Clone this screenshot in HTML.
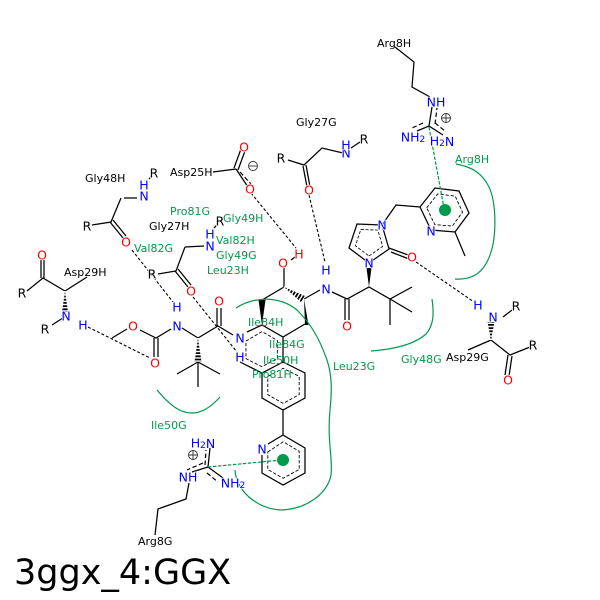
<!DOCTYPE html>
<html><head><meta charset="utf-8"><style>
html,body{margin:0;padding:0;background:#fff}
svg{display:block}
text{font-family:"DejaVu Sans",sans-serif}
.b{stroke:#000;stroke-width:1.25;fill:none}
.d{stroke:#000;stroke-width:1.2;fill:none;stroke-dasharray:4.5 2.5;vector-effect:non-scaling-stroke}
.h{stroke:#000;stroke-width:1.1;fill:none;stroke-dasharray:3 2}
.g{stroke:#009a4d;stroke-width:1.2;fill:none}
.a text{font-size:12.5px;text-anchor:middle;dominant-baseline:central;paint-order:stroke;stroke:#fff;stroke-width:1.5px}
.l text{font-size:11px}
.gt text{font-size:11px;fill:#009a4d}
</style></head><body>
<svg width="600" height="600" viewBox="0 0 600 600" xmlns="http://www.w3.org/2000/svg">
<rect width="600" height="600" fill="#fff"/>
<path class="b" d="M213 172L236 169M234 168L241 149M238 170L245 151M236 169L248 187
M288 160L304 165L322 148L343 153M351 148L360 142M303 166L307 187M306 165L310 187
M284 268V287L262 300M291 260L295 257M304 299L320 290M332 292L347 299L369 287L390 299L412 287M390 299L412 312M390 299V325M345 299V320M349 299V320
M369 263L389 249L382 225L357 224L349 248L369 263M389 248L408 255M391 252L409 259M382 225L396 205L420 207L435 188L459 191L469 213L455 232L431 230L420 207M455 232L465 256
M429 126L432 107M429 126L417 131M429 126L443 135M430 97L412 87L414 62L395 47
M491 323L491 340M491 340L468 350M491 340L510 355L530 347M508 355L505 375M512 356L509 376M503 317L512 310
M217 308V326M221 308V326M198 338L218 326L233 335M247 332L262 325L283 337L305 324M283 337V362L262 373L240 362M283 362L305 373V398L283 410L262 398V373L283 362M283 410V435L305 448V473L283 485L262 473V455M283 435L268 444
M182 328L198 338M171 329L156 338L140 330M127 329L112 338M154 338V357M158 338V357M198 362L177 374M198 362L220 374M198 362V387
M124 198H137M121 198L111 222L92 225M110 222L123 238M113 220L126 236M149 179L152 176
M185 247L204 246M185 247L176 271L158 274M175 271L188 287M178 269L191 285M214 228L217 225
M87 277L65 291L43 278L27 291M41 278V260M44 278V260M66 316L52 325"/>
<path fill="#000" d="M369 287L366.500 268H371.500ZM262 325L258.500 300H265.500ZM305 325L301.500 325H308.500L304 299Z"/>
<path fill="#000" d="M198 338L194.500 362H201.500ZM65 291L62 312H68ZM491 340L487.500 322H494.500ZM284 287L301 302L305 296Z"/>
<path stroke="#fff" stroke-width="9" stroke-dasharray="1.4 1.8" fill="none" d="M198 338V362M65 291V312M491 340V322M284 287L304 299"/>
<g class="d">
<polygon transform="translate(262 349.5) scale(.73) translate(-262 -349.5)" points="240,338 262,325 283,337 283,362 262,373 240,362"/>
<polygon transform="translate(283.500 385.500) scale(.73) translate(-283.500 -385.500)" points="262,373 283,362 305,373 305,398 283,410 262,398"/>
<polygon transform="translate(283.500 460) scale(.73) translate(-283.500 -460)" points="262,449 283,435 305,448 305,473 283,485 262,473"/>
<polygon transform="translate(445 210) scale(.73) translate(-445 -210)" points="420,207 435,188 459,191 469,213 455,232 431,230"/>
<polygon transform="translate(369 241) scale(.68) translate(-369 -241)" points="369,263 389,249 382,225 357,224 349,248"/>
<path d="M240 172L251 184"/>
<path d="M435 124L437 108M423 123L412 128M435 123L445 131"/>
<path d="M205 465L206 450M203 463L187 470M207 473L218 482"/>
</g>
<path class="b" d="M208 467L210 448M208 467L192 472M208 467L223 478M189 483L186 499L158 509L155 535"/>
<g class="h">
<path d="M251 193L296 248M309 195L325 262M416 262L474 302M132 250L173 302M193 297L237 352M88 327L150 358"/>
</g>
<path d="M429 127L444 208M208 467L282 460" fill="none" stroke="#009a4d" stroke-width="1.2" stroke-dasharray="3.500 1.500"/>
<circle cx="445" cy="210" r="6" fill="#009a4d"/><circle cx="283" cy="460" r="6" fill="#009a4d"/>
<path class="g" d="M456 164C474 167 483 175 489 187C497 204 496 237 491 252C484 275 470 280 455 279"/>
<path class="g" d="M371 351C398 349 416 343 426 334C434 325 434 313 432 299"/>
<path class="g" d="M236 308C255 296 280 296 297 310C312 325 320 340 327 360C332 375 332 390 330 410C327 440 333 460 331 475C327 495 305 509 282 510C256 509 236 490 235 470"/>
<path class="g" d="M157 390C172 408 182 413 192 413C202 413 212 406 220 397"/>
<g class="a" fill="#f00">
<text x="244" y="147">O</text><text x="250" y="189">O</text><text x="309" y="190">O</text><text x="283" y="263">O</text><text x="299" y="254">H</text><text x="347" y="326">O</text><text x="412" y="257">O</text><text x="508" y="380">O</text><text x="219" y="301">O</text><text x="133" y="326">O</text><text x="155" y="363">O</text><text x="126" y="242">O</text><text x="191" y="291">O</text><text x="42" y="255">O</text>
</g>
<g class="a" fill="#00f">
<text x="346" y="153">N</text><text x="346" y="145">H</text><text x="326" y="289">N</text><text x="326" y="270">H</text><text x="369" y="263">N</text><text x="382" y="225">N</text><text x="431" y="231">N</text><text x="436" y="102">NH</text><text x="413" y="137">NH<tspan font-size="9" dy="3">2</tspan></text><text x="442" y="141">H<tspan font-size="9" dy="3">2</tspan><tspan dy="-3">N</tspan></text>
<text x="493" y="317">N</text><text x="478" y="305">H</text><text x="240" y="338">N</text><text x="240" y="357">H</text><text x="177" y="326">N</text><text x="177" y="307">H</text><text x="144" y="196">N</text><text x="144" y="185">H</text><text x="210" y="246">N</text><text x="210" y="234">H</text><text x="66" y="316">N</text><text x="83" y="325">H</text><text x="262" y="449">N</text>
<text x="203" y="443">H<tspan font-size="9" dy="3">2</tspan><tspan dy="-3">N</tspan></text><text x="188" y="477">NH</text><text x="233" y="483">NH<tspan font-size="9" dy="3">2</tspan></text>
</g>
<g class="a" fill="#000">
<text x="281" y="158">R</text><text x="364" y="139">R</text><text x="516" y="306">R</text><text x="533" y="345">R</text><text x="154" y="173">R</text><text x="87" y="226">R</text><text x="220" y="221">R</text><text x="152" y="274">R</text><text x="22" y="293">R</text><text x="45" y="329">R</text>
</g>
<g class="l" fill="#000">
<text x="170" y="176">Asp25H</text><text x="296" y="126">Gly27G</text><text x="377" y="47">Arg8H</text><text x="85" y="182">Gly48H</text><text x="149" y="230">Gly27H</text><text x="64" y="276">Asp29H</text><text x="446" y="361">Asp29G</text><text x="138" y="545">Arg8G</text>
</g>
<g class="gt">
<text x="455" y="163">Arg8H</text><text x="170" y="215">Pro81G</text><text x="223" y="222">Gly49H</text><text x="134" y="252">Val82G</text><text x="216" y="244">Val82H</text><text x="216" y="259">Gly49G</text><text x="207" y="274">Leu23H</text><text x="248" y="326">Ile84H</text><text x="269" y="348">Ile84G</text><text x="263" y="364">Ile50H</text><text x="252" y="378">Pro81H</text><text x="333" y="370">Leu23G</text><text x="401" y="363">Gly48G</text><text x="151" y="429">Ile50G</text>
</g>
<g fill="none" stroke="#333" stroke-width=".9">
<circle cx="446" cy="118" r="4.500"/><path d="M441.500 118H450.500M446 113.500V122.500"/>
<circle cx="253" cy="166" r="4.500"/><path d="M248.500 166H257.500"/>
<circle cx="193" cy="455" r="4.500"/><path d="M188.500 455H197.500M193 450.500V459.500"/>
</g>
<text x="14" y="584" font-size="35" fill="#000">3ggx_4:GGX</text>
</svg>
</body></html>
